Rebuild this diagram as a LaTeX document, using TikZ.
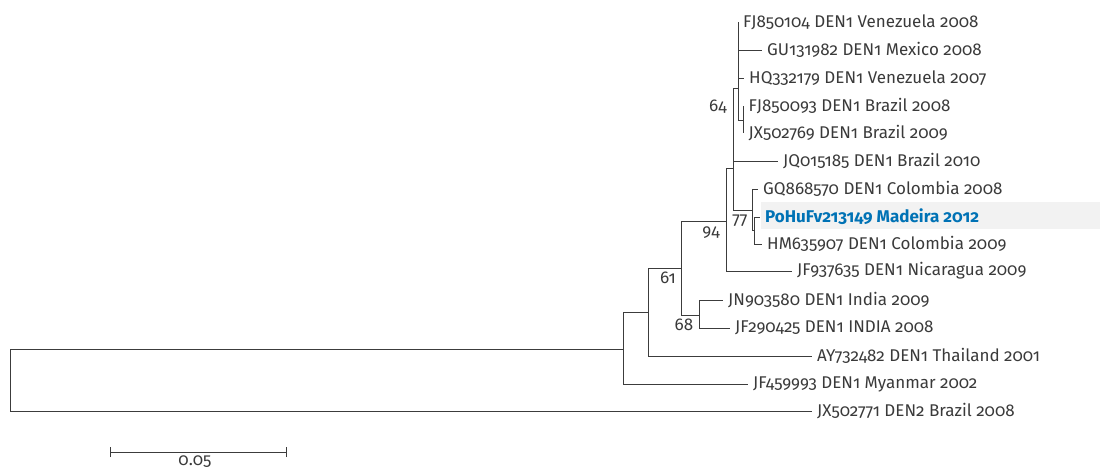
\documentclass[tikz,border=0pt]{standalone}
\usepackage{fontspec}
\setmainfont{Fira Sans}[Numbers=OldStyle]
\definecolor{lineGray}{HTML}{3C3C3C}
\definecolor{textGray}{HTML}{3A3A3A}
\definecolor{madeiraBlue}{HTML}{0072B5}
\definecolor{rowGray}{HTML}{F2F2F2}
\begin{document}
\begin{tikzpicture}[x=1pt,y=-1pt,
	branch/.style={draw=lineGray,line width=0.9pt},
	taxon/.style={anchor=west,inner sep=0pt,xshift=5pt,text=textGray,font=\fontsize{17}{17}\selectfont},
	boot/.style={inner sep=0pt,text=textGray,font=\fontsize{17}{17}\selectfont}]
	\useasboundingbox (0,0) rectangle (1100,470);

	% highlighted row
	\fill[rowGray] (761,202) rectangle (1100,229);

	% inner nodes
	\coordinate (root) at (10,380);
	\coordinate (nW) at (623,349);
	\coordinate (nU) at (648,312);
	\coordinate (nS) at (681,268);
	\coordinate (nV) at (699,315);
	\coordinate (nR) at (726.5,221);
	\coordinate (nP) at (733,168);
	\coordinate (nQ) at (738,88);
	\coordinate (nT) at (743.5,120);
	\coordinate (nA) at (752,210);
	\coordinate (nB) at (754.5,230);

	% leaves
	\coordinate (lFJa) at (738,22);
	\coordinate (lGU) at (762,50);
	\coordinate (lHQ) at (744,78);
	\coordinate (lFJb) at (743.5,106);
	\coordinate (lJXa) at (743.5,133);
	\coordinate (lJQ) at (778,161);
	\coordinate (lGQ) at (758,189);
	\coordinate (lPo) at (760,217);
	\coordinate (lHM) at (762,244);
	\coordinate (lJFa) at (792,271);
	\coordinate (lJN) at (723,300);
	\coordinate (lJFb) at (730,328);
	\coordinate (lAY) at (812,356);
	\coordinate (lJFc) at (748,384);
	\coordinate (lJXb) at (812,411);

	% branches
	\draw[branch] (root) |- (nW);
	\draw[branch] (root) |- (lJXb);
	\draw[branch] (nW) |- (nU);
	\draw[branch] (nW) |- (lJFc);
	\draw[branch] (nU) |- (nS);
	\draw[branch] (nU) |- (lAY);
	\draw[branch] (nS) |- (nR);
	\draw[branch] (nS) |- (nV);
	\draw[branch] (nV) |- (lJN);
	\draw[branch] (nV) |- (lJFb);
	\draw[branch] (nR) |- (nP);
	\draw[branch] (nR) |- (lJFa);
	\draw[branch] (nP) |- (nQ);
	\draw[branch] (nP) |- (lJQ);
	\draw[branch] (nP) |- (nA);
	\draw[branch] (nQ) |- (lFJa);
	\draw[branch] (nQ) |- (lGU);
	\draw[branch] (nQ) |- (lHQ);
	\draw[branch] (nQ) |- (nT);
	\draw[branch] (nT) |- (lFJb);
	\draw[branch] (nT) |- (lJXa);
	\draw[branch] (nA) |- (lGQ);
	\draw[branch] (nA) |- (nB);
	\draw[branch] (nB) |- (lPo);
	\draw[branch] (nB) |- (lHM);

	% taxon labels
	\node[taxon] (tFJa) at (lFJa) {FJ850104 DEN1 Venezuela 2008};
	\node[taxon] (tGU) at (lGU) {GU131982 DEN1 Mexico 2008};
	\node[taxon] (tHQ) at (lHQ) {HQ332179 DEN1 Venezuela 2007};
	\node[taxon] (tFJb) at (lFJb) {FJ850093 DEN1 Brazil 2008};
	\node[taxon] (tJXa) at (lJXa) {JX502769 DEN1 Brazil 2009};
	\node[taxon] (tJQ) at (lJQ) {JQ015185 DEN1 Brazil 2010};
	\node[taxon] (tGQ) at (lGQ) {GQ868570 DEN1 Colombia 2008};
	\node[taxon,text=madeiraBlue,font=\fontsize{17}{17}\selectfont\bfseries] (tPo) at (lPo) {PoHuFv213149 Madeira 2012};
	\node[taxon] (tHM) at (lHM) {HM635907 DEN1 Colombia 2009};
	\node[taxon] (tJFa) at (lJFa) {JF937635 DEN1 Nicaragua 2009};
	\node[taxon] (tJN) at (lJN) {JN903580 DEN1 India 2009};
	\node[taxon] (tJFb) at (lJFb) {JF290425 DEN1 INDIA 2008};
	\node[taxon] (tAY) at (lAY) {AY732482 DEN1 Thailand 2001};
	\node[taxon] (tJFc) at (lJFc) {JF459993 DEN1 Myanmar 2002};
	\node[taxon] (tJXb) at (lJXb) {JX502771 DEN2 Brazil 2008};

	% bootstrap values
	\node[boot] (b64) at (718,107) {64};
	\node[boot] (b77) at (740,221) {77};
	\node[boot] (b94) at (711,233) {94};
	\node[boot] (b61) at (668,278) {61};
	\node[boot] (b68) at (684,325) {68};

	% scale bar
	\coordinate (sbL) at (110,452);
	\coordinate (sbR) at (286,452);
	\draw[branch] (sbL) -- (sbR);
	\draw[branch] ([yshift=-5pt]sbL) -- ([yshift=5pt]sbL);
	\draw[branch] ([yshift=-5pt]sbR) -- ([yshift=5pt]sbR);
	\node[boot,anchor=base] (sbText) at (195,465) {0.05};

\end{tikzpicture}
\end{document}
